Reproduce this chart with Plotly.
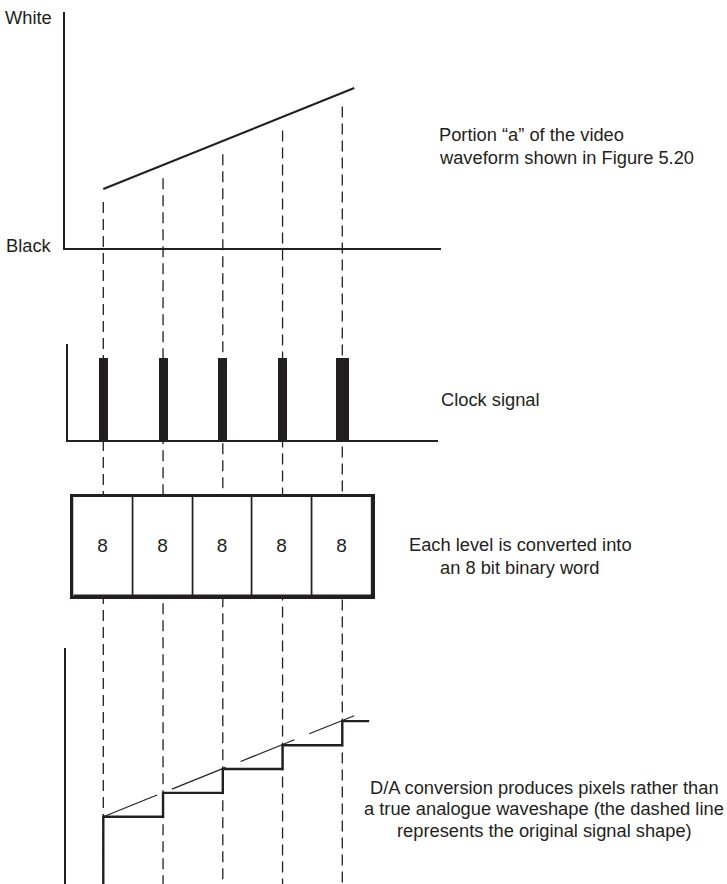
import plotly.graph_objects as go

# ---------------- data ----------------
sample_t = [1, 2, 3, 4, 5]                       # clock instants
ramp_t = [1.0, 5.2]                              # portion "a" of the waveform (time)
ramp_level = [0.25, 0.678]                       # level, 0 = black, 1 = white
sampled_level = [0.25, 0.351, 0.452, 0.553, 0.655]  # level held after D/A
clock_pulse = [1, 1, 1, 1, 1]
word_bits = [8, 8, 8, 8, 8]
hold_end_t = 5.45
level_ticks = [0, 1]
level_labels = ["Black", "White"]

# ---------------- style / geometry ----------------
W, H = 727, 884
INK = "#231f20"
FONT = "Liberation Sans, Arial, Helvetica, sans-serif"
FS = 18.3
T1_PX, DT_PX = 103.3, 59.75      # pixel position of first sample, sample spacing
LEVEL_PX = 236.0                  # pixels per level unit
A_BLACK_PX = 248.0                # black level line of top panel
D_BLACK_PX = 875.7                # black level of bottom panel
GUIDE_GAP = 0.055
clock_width = [0.15, 0.15, 0.15, 0.15, 0.218]


def t_at(px):
    return 1 + (px - T1_PX) / DT_PX


def xp(px):
    return px / W


def yp(py):
    return 1 - py / H


guide_bottom = (A_BLACK_PX - H) / LEVEL_PX
guide_top = A_BLACK_PX / LEVEL_PX

fig = go.Figure()

# dashed sampling guides (drawn first, underneath everything)
gx, gy = [], []
for t, lv in zip(sample_t, sampled_level):
    gx += [t, t, None]
    gy += [lv - GUIDE_GAP, guide_bottom, None]
fig.add_trace(go.Scatter(x=gx, y=gy, mode="lines", xaxis="x", yaxis="y",
                         line=dict(color=INK, width=1.3, dash="11px,6px"),
                         hoverinfo="skip"))

# top panel: analogue ramp
fig.add_trace(go.Scatter(x=ramp_t, y=ramp_level, mode="lines", xaxis="x2", yaxis="y2",
                         line=dict(color=INK, width=2.1), hoverinfo="skip"))

# clock pulses
fig.add_trace(go.Bar(x=sample_t, y=clock_pulse, width=clock_width, xaxis="x3", yaxis="y3",
                     marker=dict(color=INK, line=dict(width=0)), hoverinfo="skip"))

# 8-bit words
fig.add_trace(go.Bar(x=sample_t, y=[1] * len(word_bits), width=1.0, xaxis="x4", yaxis="y4",
                     text=[str(b) for b in word_bits], textposition="inside",
                     insidetextanchor="middle", textangle=0, constraintext="none",
                     textfont=dict(family=FONT, size=19, color=INK),
                     marker=dict(color="white", line=dict(color=INK, width=1.6)),
                     hoverinfo="skip"))

# bottom panel: original shape (dashed) and D/A staircase
fig.add_trace(go.Scatter(x=ramp_t, y=ramp_level, mode="lines", xaxis="x5", yaxis="y5",
                         line=dict(color=INK, width=1.2, dash="58px,16px"), hoverinfo="skip"))
d_min = (D_BLACK_PX - H) / LEVEL_PX
d_max = (D_BLACK_PX - 648) / LEVEL_PX
stair_x = [sample_t[0]] + sample_t + [hold_end_t]
stair_y = [d_min - 0.05] + sampled_level + [sampled_level[-1]]
fig.add_trace(go.Scatter(x=stair_x, y=stair_y, mode="lines", line_shape="hv",
                         xaxis="x5", yaxis="y5",
                         line=dict(color=INK, width=2.4), hoverinfo="skip"))

hidden = dict(showgrid=False, zeroline=False, showticklabels=False, ticks="",
              fixedrange=True, showline=False)
line_ax = dict(hidden, showline=True, linecolor=INK, linewidth=1.5)

fig.update_layout(
    width=W, height=H,
    margin=dict(l=0, r=0, t=0, b=0),
    paper_bgcolor="white", plot_bgcolor="rgba(0,0,0,0)",
    showlegend=False, bargap=0,
    font=dict(family=FONT, size=FS, color=INK),
    xaxis=dict(hidden, domain=[0, 1], range=[t_at(0), t_at(W)], anchor="y"),
    yaxis=dict(hidden, domain=[0, 1], range=[guide_bottom, guide_top], anchor="x"),
    xaxis2=dict(line_ax, domain=[xp(65), xp(441)], range=[t_at(65), t_at(441)], anchor="y2"),
    yaxis2=dict(line_ax, domain=[yp(248), yp(12)], range=[0, 1], anchor="x2"),
    xaxis3=dict(line_ax, domain=[xp(68), xp(438)], range=[t_at(68), t_at(438)], anchor="y3"),
    yaxis3=dict(line_ax, domain=[yp(440), yp(344)], range=[0, 1 / 0.857], anchor="x3"),
    xaxis4=dict(line_ax, domain=[xp(T1_PX - 0.5 * DT_PX), xp(T1_PX + 4.5 * DT_PX)],
                range=[0.5, 5.5], anchor="y4", mirror=True, linewidth=2.6),
    yaxis4=dict(line_ax, domain=[yp(596), yp(497)], range=[0, 1], anchor="x4",
                mirror=True, linewidth=2.6),
    xaxis5=dict(hidden, domain=[xp(66), 1], range=[t_at(66), t_at(W)], anchor="y5"),
    yaxis5=dict(line_ax, domain=[0, yp(648)], range=[d_min, d_max], anchor="x5"),
)

ann = []


def add_text(text, x, y, xanchor):
    ann.append(dict(text=text, x=xp(x), y=yp(y), xref="paper", yref="paper",
                    xanchor=xanchor, yanchor="middle", showarrow=False,
                    font=dict(family=FONT, size=FS, color=INK)))


add_text(level_labels[1], 54, 17, "right")
add_text(level_labels[0], 54, 245, "right")
add_text("Portion “a” of the video", 437, 134, "left")
add_text("waveform shown in Figure 5.20", 437, 157, "left")
add_text("Clock signal", 439, 400, "left")
add_text("Each level is converted into", 520, 544, "center")
add_text("an 8 bit binary word", 520, 567, "center")
add_text("D/A conversion produces pixels rather than", 544, 787, "center")
add_text("a true analogue waveshape (the dashed line", 544, 808, "center")
add_text("represents the original signal shape)", 544, 830, "center")
fig.update_layout(annotations=ann)

fig.write_html("out.html", config={"displayModeBar": False},
               post_script="document.body.style.margin='0px';document.body.style.overflow='hidden';")
